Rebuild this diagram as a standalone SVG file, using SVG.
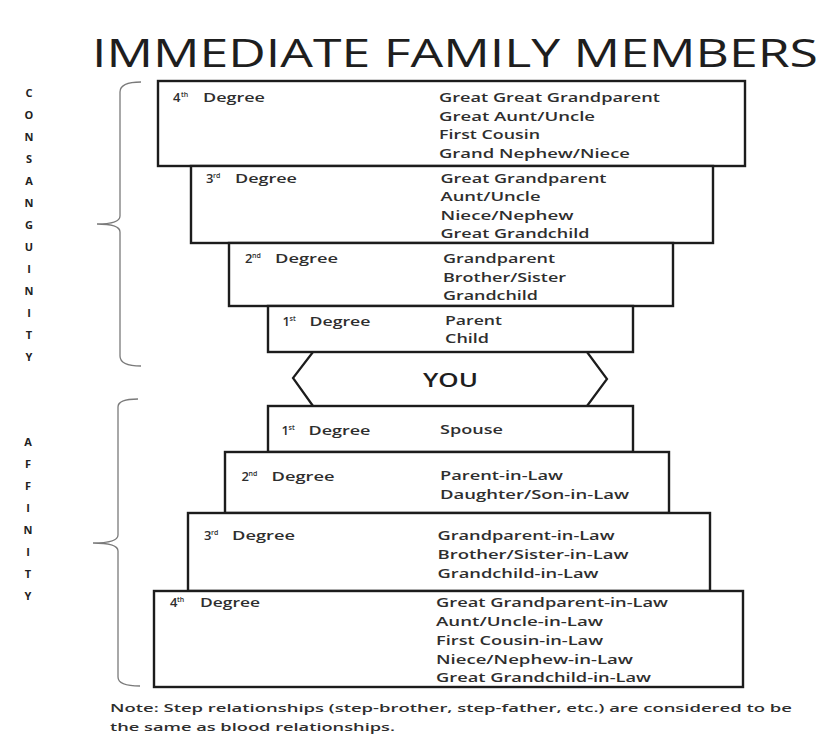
<svg xmlns="http://www.w3.org/2000/svg" width="830" height="744" viewBox="0 0 830 744">
<style>
.box{fill:#fff;stroke:#1c1c1c;stroke-width:2.4}
.t{font-family:"Open Sans","Liberation Sans",sans-serif;font-size:13px;font-weight:600;fill:#2e2e2e}
.sup{font-family:"Open Sans","Liberation Sans",sans-serif;font-size:7px;font-weight:600;fill:#2e2e2e}
.side{font-family:"Open Sans","Liberation Sans",sans-serif;font-size:11px;font-weight:bold;fill:#222;text-anchor:middle}
.title{font-family:"Open Sans","Liberation Sans",sans-serif;font-size:38px;font-weight:500;fill:#1e1e1e}
.note{font-family:"Open Sans","Liberation Sans",sans-serif;font-size:11.5px;font-weight:600;fill:#2e2e2e}
.br{fill:none;stroke:#7a7a7a;stroke-width:1.3}
.zig{fill:none;stroke:#1c1c1c;stroke-width:2.2}
.you{font-family:"Open Sans","Liberation Sans",sans-serif;font-size:20px;font-weight:600;fill:#1e1e1e}
</style>

<text id="title" class="title" x="92" y="67" textLength="726" lengthAdjust="spacingAndGlyphs">IMMEDIATE FAMILY MEMBERS</text>

<g id="label-consanguinity">
<text class="side" x="29" y="97">C</text>
<text class="side" x="29" y="119">O</text>
<text class="side" x="29" y="141">N</text>
<text class="side" x="29" y="163">S</text>
<text class="side" x="29" y="185">A</text>
<text class="side" x="29" y="207">N</text>
<text class="side" x="29" y="229">G</text>
<text class="side" x="29" y="251">U</text>
<text class="side" x="29" y="273">I</text>
<text class="side" x="29" y="295">N</text>
<text class="side" x="29" y="317">I</text>
<text class="side" x="29" y="339">T</text>
<text class="side" x="29" y="361">Y</text>
</g>

<g id="label-affinity">
<text class="side" x="28" y="446">A</text>
<text class="side" x="28" y="468">F</text>
<text class="side" x="28" y="490">F</text>
<text class="side" x="28" y="512">I</text>
<text class="side" x="28" y="534">N</text>
<text class="side" x="28" y="556">I</text>
<text class="side" x="28" y="578">T</text>
<text class="side" x="28" y="600">Y</text>
</g>

<g id="connectors">
<path class="br" d="M141,82 Q120,82 120,92 V216 Q120,224 97,224 Q120,224 120,232 V356 Q120,366 141,366"/>
<path class="br" d="M138,399 Q118,399 118,407 V535 Q118,543 93,543 Q118,543 118,551 V677 Q118,686 140,686"/>
</g>

<g id="c4">
<rect class="box" x="158" y="81" width="587" height="85"/>
<text class="t" x="173" y="102">4</text>
<text class="sup" x="181" y="97">th</text>
<text class="t" x="203" y="102" textLength="62" lengthAdjust="spacingAndGlyphs">Degree</text>
<text class="t" x="439" y="102" textLength="221" lengthAdjust="spacingAndGlyphs">Great Great Grandparent</text>
<text class="t" x="439" y="120.5" textLength="156" lengthAdjust="spacingAndGlyphs">Great Aunt/Uncle</text>
<text class="t" x="439" y="139" textLength="101" lengthAdjust="spacingAndGlyphs">First Cousin</text>
<text class="t" x="439" y="157.5" textLength="191" lengthAdjust="spacingAndGlyphs">Grand Nephew/Niece</text>
</g>

<g id="c3">
<rect class="box" x="191" y="166" width="522" height="77"/>
<text class="t" x="206" y="183">3</text>
<text class="sup" x="213" y="178">rd</text>
<text class="t" x="235" y="183" textLength="62" lengthAdjust="spacingAndGlyphs">Degree</text>
<text class="t" x="440.5" y="183" textLength="166" lengthAdjust="spacingAndGlyphs">Great Grandparent</text>
<text class="t" x="440.5" y="201" textLength="100" lengthAdjust="spacingAndGlyphs">Aunt/Uncle</text>
<text class="t" x="440.5" y="219.5" textLength="133" lengthAdjust="spacingAndGlyphs">Niece/Nephew</text>
<text class="t" x="440.5" y="237.5" textLength="149" lengthAdjust="spacingAndGlyphs">Great Grandchild</text>
</g>

<g id="c2">
<rect class="box" x="229" y="243" width="444" height="63"/>
<text class="t" x="245" y="263">2</text>
<text class="sup" x="252" y="258">nd</text>
<text class="t" x="275" y="263" textLength="63" lengthAdjust="spacingAndGlyphs">Degree</text>
<text class="t" x="443" y="263" textLength="112" lengthAdjust="spacingAndGlyphs">Grandparent</text>
<text class="t" x="443" y="281.5" textLength="123" lengthAdjust="spacingAndGlyphs">Brother/Sister</text>
<text class="t" x="443" y="299.5" textLength="95" lengthAdjust="spacingAndGlyphs">Grandchild</text>
</g>

<g id="c1">
<rect class="box" x="268" y="306" width="365" height="46"/>
<text class="t" x="282.5" y="325.5">1</text>
<text class="sup" x="289.5" y="320.5">st</text>
<text class="t" x="309.5" y="325.5" textLength="61" lengthAdjust="spacingAndGlyphs">Degree</text>
<text class="t" x="445" y="325" textLength="57" lengthAdjust="spacingAndGlyphs">Parent</text>
<text class="t" x="445" y="343" textLength="44" lengthAdjust="spacingAndGlyphs">Child</text>
</g>

<g id="you">
<polyline class="zig" points="313,352 293,378 313,406"/>
<polyline class="zig" points="587,352 607,379 587,406"/>
<text class="you" x="423" y="387" textLength="55" lengthAdjust="spacingAndGlyphs">YOU</text>
</g>

<g id="a1">
<rect class="box" x="268" y="406" width="365" height="46"/>
<text class="t" x="281.5" y="435">1</text>
<text class="sup" x="288.5" y="430">st</text>
<text class="t" x="308.5" y="435" textLength="62" lengthAdjust="spacingAndGlyphs">Degree</text>
<text class="t" x="440" y="434" textLength="63" lengthAdjust="spacingAndGlyphs">Spouse</text>
</g>

<g id="a2">
<rect class="box" x="225" y="452" width="444" height="61"/>
<text class="t" x="241.5" y="480.5">2</text>
<text class="sup" x="248.5" y="475.5">nd</text>
<text class="t" x="271.5" y="480.5" textLength="63" lengthAdjust="spacingAndGlyphs">Degree</text>
<text class="t" x="440" y="480" textLength="123" lengthAdjust="spacingAndGlyphs">Parent-in-Law</text>
<text class="t" x="440" y="499" textLength="189" lengthAdjust="spacingAndGlyphs">Daughter/Son-in-Law</text>
</g>

<g id="a3">
<rect class="box" x="188" y="513" width="522" height="78"/>
<text class="t" x="204" y="540">3</text>
<text class="sup" x="211" y="535">rd</text>
<text class="t" x="232" y="540" textLength="63" lengthAdjust="spacingAndGlyphs">Degree</text>
<text class="t" x="437.5" y="539.5" textLength="177" lengthAdjust="spacingAndGlyphs">Grandparent-in-Law</text>
<text class="t" x="437.5" y="558.5" textLength="191" lengthAdjust="spacingAndGlyphs">Brother/Sister-in-Law</text>
<text class="t" x="437.5" y="577.5" textLength="161" lengthAdjust="spacingAndGlyphs">Grandchild-in-Law</text>
</g>

<g id="a4">
<rect class="box" x="154" y="591" width="589" height="96"/>
<text class="t" x="170" y="607">4</text>
<text class="sup" x="177" y="602">th</text>
<text class="t" x="200" y="607" textLength="60" lengthAdjust="spacingAndGlyphs">Degree</text>
<text class="t" x="436" y="607" textLength="232" lengthAdjust="spacingAndGlyphs">Great Grandparent-in-Law</text>
<text class="t" x="436" y="625.5" textLength="167" lengthAdjust="spacingAndGlyphs">Aunt/Uncle-in-Law</text>
<text class="t" x="436" y="644.5" textLength="167" lengthAdjust="spacingAndGlyphs">First Cousin-in-Law</text>
<text class="t" x="436" y="663.5" textLength="197" lengthAdjust="spacingAndGlyphs">Niece/Nephew-in-Law</text>
<text class="t" x="436" y="682" textLength="215" lengthAdjust="spacingAndGlyphs">Great Grandchild-in-Law</text>
</g>

<g id="note">
<text class="note" x="110" y="711.5" textLength="682" lengthAdjust="spacingAndGlyphs">Note: Step relationships (step-brother, step-father, etc.) are considered to be</text>
<text class="note" x="110" y="730.5" textLength="285" lengthAdjust="spacingAndGlyphs">the same as blood relationships.</text>
</g>
</svg>
